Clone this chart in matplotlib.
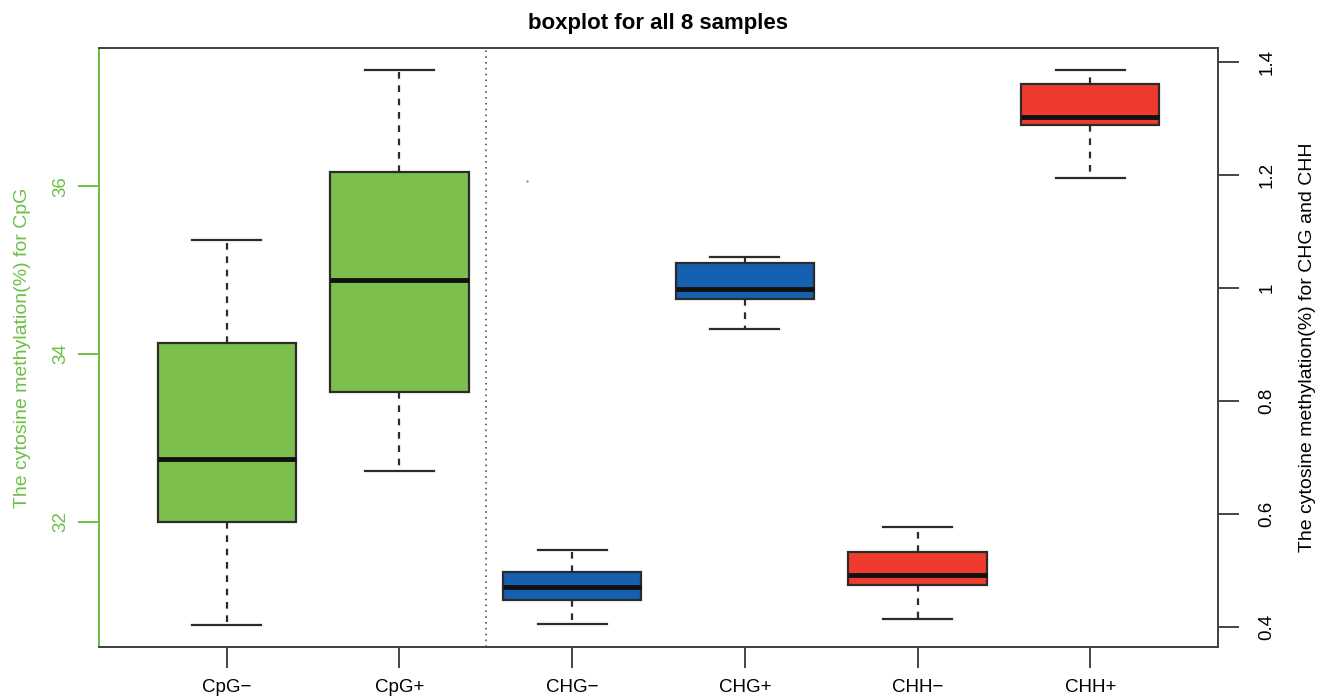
import matplotlib
matplotlib.use('Agg')
import matplotlib.pyplot as plt

plt.rcParams['font.family'] = ['Liberation Sans', 'DejaVu Sans']

## data: five-number summaries
labels = ['CpG\u2212', 'CpG+', 'CHG\u2212', 'CHG+', 'CHH\u2212', 'CHH+']

## CpG samples (left axis)
cpg_low    = [30.77, 32.61]
cpg_q1     = [32.00, 33.55]
cpg_median = [32.75, 34.88]
cpg_q3     = [34.13, 36.17]
cpg_high   = [35.36, 37.385]

## CHG and CHH samples (right axis)
ch_low    = [0.405, 0.927, 0.414, 1.195]
ch_q1     = [0.448, 0.981, 0.474, 1.289]
ch_median = [0.471, 0.998, 0.492, 1.303]
ch_q3     = [0.497, 1.044, 0.533, 1.361]
ch_high   = [0.536, 1.055, 0.577, 1.386]

## stray grey dot near CHG-
stray_x = [2.74]
stray_y = [1.189]

green = '#7cbf4c'
green_axis = '#6cbf45'
blue = '#1560b0'
red = '#ee3b2e'
edge = '#2b2b2b'


def stats(low, q1, med, q3, high):
    return [dict(whislo=a, q1=b, med=c, q3=d, whishi=e, fliers=[])
            for a, b, c, d, e in zip(low, q1, med, q3, high)]


def draw(ax, st, pos, colors):
    bp = ax.bxp(st, positions=pos, widths=0.8, patch_artist=True,
                showfliers=False,
                boxprops=dict(edgecolor=edge, linewidth=1.6),
                medianprops=dict(color='#111111', linewidth=3.5, solid_capstyle='butt'),
                whiskerprops=dict(color=edge, linewidth=1.6, linestyle=(0, (3, 3))),
                capprops=dict(color=edge, linewidth=1.6),
                capwidths=0.4)
    for b, c in zip(bp['boxes'], colors):
        b.set_facecolor(c)
    return bp


fig = plt.figure(figsize=(13.19, 6.96), dpi=100)
ax = fig.add_axes([99 / 1319, 49 / 696, (1218 - 99) / 1319, (647 - 48) / 696])
ax2 = ax.twinx()

draw(ax, stats(cpg_low, cpg_q1, cpg_median, cpg_q3, cpg_high), [1, 2], [green, green])
draw(ax2, stats(ch_low, ch_q1, ch_median, ch_q3, ch_high), [3, 4, 5, 6],
     [blue, blue, red, red])
ax2.plot(stray_x, stray_y, 'o', color='#999999', markersize=1.8, mec='none')

ax.axvline(2.5, color='#555555', linewidth=1.2, linestyle=(0, (1, 2.5)))

ax.set_xlim(0.26, 6.74)
ax2.set_xlim(0.26, 6.74)
ax.set_ylim(30.505, 37.65)
ax2.set_ylim(0.365, 1.425)

ax.set_xticks(range(1, 7))
ax.set_xticklabels(labels, fontsize=13.5)
ax.set_yticks([32, 34, 36])
ax2.set_yticks([0.4, 0.6, 0.8, 1.0, 1.2, 1.4])
ax2.set_yticklabels(['0.4', '0.6', '0.8', '1', '1.2', '1.4'])

ax.tick_params(axis='x', length=15, width=1.4, color='#444444', pad=8)
ax.tick_params(axis='y', length=15, width=1.4, color=green_axis,
               labelcolor=green_axis, labelsize=13.5, pad=6)
ax2.tick_params(axis='y', length=15, width=1.4, color='#444444',
                labelsize=13.5, pad=14)
for t in ax.get_yticklabels():
    t.set_rotation(90)
    t.set_va('center')
for t in ax2.get_yticklabels():
    t.set_rotation(90)
    t.set_va('center')

for a in (ax, ax2):
    for s in a.spines.values():
        s.set_color('#444444')
        s.set_linewidth(1.4)
ax2.spines['left'].set_color(green_axis)
ax.spines['left'].set_color(green_axis)

ax.set_ylabel('The cytosine methylation(%) for CpG', color=green_axis,
              fontsize=14, labelpad=16)
ax2.set_ylabel('The cytosine methylation(%) for CHG and CHH', fontsize=14,
               labelpad=17)
ax.set_title('boxplot for all 8 samples', fontsize=16, fontweight='bold', pad=14)

fig.savefig('out.png', dpi=100)
